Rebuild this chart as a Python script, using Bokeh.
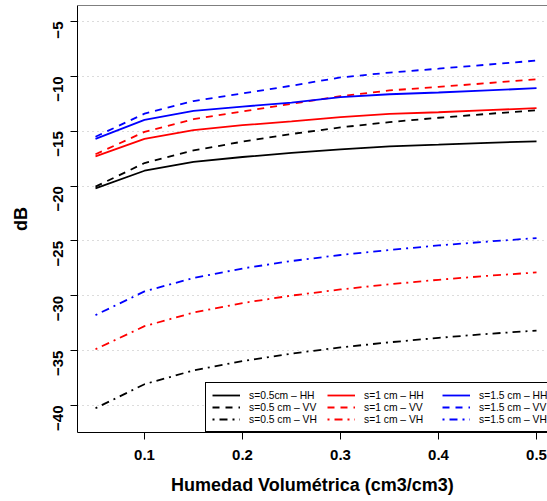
import math
from bokeh.plotting import figure
from bokeh.models import Range1d, FixedTicker, Legend, LegendItem, Span
from bokeh.embed import file_html
from bokeh.resources import INLINE

# Data
humedad = [0.05, 0.10, 0.15, 0.20, 0.25, 0.30, 0.35, 0.40, 0.45, 0.50]

hh_05 = [-20.2, -18.6, -17.8, -17.35, -16.98, -16.65, -16.38, -16.23, -16.06, -15.92]
vv_05 = [-20.05, -17.9, -16.75, -15.95, -15.25, -14.65, -14.17, -13.77, -13.42, -13.09]
vh_05 = [-40.25, -38.06, -36.8, -35.95, -35.27, -34.7, -34.24, -33.83, -33.47, -33.17]

hh_10 = [-17.3, -15.7, -14.9, -14.45, -14.1, -13.72, -13.42, -13.27, -13.08, -12.9]
vv_10 = [-17.1, -15.06, -13.9, -13.2, -12.5, -11.8, -11.28, -10.96, -10.62, -10.26]
vh_10 = [-34.87, -32.77, -31.53, -30.66, -29.98, -29.42, -28.95, -28.54, -28.18, -27.87]

hh_15 = [-15.7, -13.97, -13.15, -12.75, -12.4, -11.9, -11.63, -11.47, -11.28, -11.08]
vv_15 = [-15.5, -13.4, -12.25, -11.55, -10.85, -10.1, -9.65, -9.3, -8.93, -8.56]
vh_15 = [-31.76, -29.6, -28.38, -27.51, -26.83, -26.28, -25.82, -25.41, -25.06, -24.74]

x_ticks = [0.1, 0.2, 0.3, 0.4, 0.5]
y_ticks = [-40, -35, -30, -25, -20, -15, -10, -5]

series = [
    ("s=0.5cm \u2013 HH", hh_05, "black", "solid"),
    ("s=0.5 cm \u2013 VV", vv_05, "black", "dashed"),
    ("s=0.5 cm \u2013 VH", vh_05, "black", "dotdash"),
    ("s=1 cm \u2013 HH", hh_10, "red", "solid"),
    ("s=1 cm \u2013 VV", vv_10, "red", "dashed"),
    ("s=1 cm \u2013 VH", vh_10, "red", "dotdash"),
    ("s=1.5 cm \u2013 HH", hh_15, "blue", "solid"),
    ("s=1.5 cm \u2013 VV", vv_15, "blue", "dashed"),
    ("s=1.5 cm \u2013 VH", vh_15, "blue", "dotdash"),
]
dash_map = {"solid": "solid", "dashed": "7 6", "dotdash": "2 5 8 5"}

FONT = "Liberation Sans"
Y_TOP = -3.54

p = figure(width=547, height=501, output_backend="svg", toolbar_location=None,
           x_range=Range1d(0.03163, 0.5112), y_range=Range1d(-42.46, Y_TOP),
           min_border_left=77, min_border_right=0, min_border_top=5,
           min_border_bottom=69)
p.outline_line_color = None
p.background_fill_color = "white"
p.border_fill_color = "white"

# Grid
p.xgrid.visible = False
p.ygrid.ticker = FixedTicker(ticks=y_ticks)
p.ygrid.grid_line_color = "#b8b8b8"
p.ygrid.grid_line_dash = "1 4"
p.ygrid.grid_line_width = 1

# Axes
for ax in (p.xaxis[0], p.yaxis[0]):
    ax.axis_line_color = "black"
    ax.axis_line_width = 1
    ax.major_tick_line_color = "black"
    ax.major_tick_out = 7
    ax.major_tick_in = 0
    ax.minor_tick_line_color = None
    ax.major_label_text_font = FONT
    ax.major_label_text_font_style = "bold"
    ax.major_label_text_font_size = "15px"
    ax.major_label_text_color = "black"
    ax.axis_label_text_font = FONT
    ax.axis_label_text_font_style = "bold"
    ax.axis_label_text_font_size = "18px"
    ax.axis_label_text_color = "black"

p.xaxis.ticker = FixedTicker(ticks=x_ticks)
p.xaxis.major_label_overrides = {t: f"{t:.1f}" for t in x_ticks}
p.xaxis.axis_label = "Humedad Volumétrica (cm3/cm3)"
p.xaxis.major_label_standoff = 10
p.xaxis.axis_label_standoff = 12

p.yaxis.ticker = FixedTicker(ticks=y_ticks)
p.yaxis.major_label_overrides = {t: "\u2212" + str(abs(t)) for t in y_ticks}
p.yaxis.major_label_orientation = math.pi / 2
p.yaxis.axis_label = "dB"
p.yaxis.major_label_standoff = 12
p.yaxis.axis_label_standoff = 15

# Top border of the box
p.add_layout(Span(location=Y_TOP, dimension="width", line_color="black", line_width=1))

renderers = {}
for label, ys, color, style in series:
    r = p.line(humedad, ys, line_color=color, line_width=1.8,
               line_dash=dash_map[style])
    renderers[label] = r

legend = Legend(
    items=[LegendItem(label=lab, renderers=[renderers[lab]]) for lab, _, _, _ in series],
    location=(128, 0), ncols=3, orientation="vertical",
    border_line_color="black", border_line_width=1, border_line_alpha=1,
    background_fill_color="white", background_fill_alpha=1,
    label_text_font=FONT, label_text_font_size="10.3px", label_text_color="black",
    glyph_width=28, glyph_height=12, label_height=12, label_width=78,
    label_standoff=9, spacing=0, padding=6, margin=0,
)
p.add_layout(legend, "center")

open("out.html", "w").write(file_html(p, INLINE))
